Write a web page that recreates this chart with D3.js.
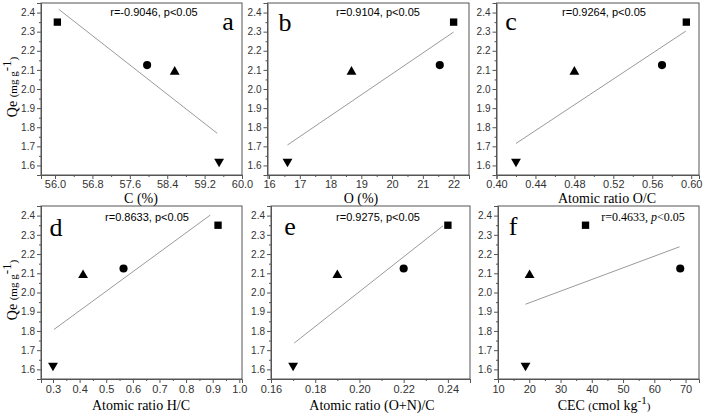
<!DOCTYPE html>
<html><head><meta charset="utf-8">
<script src="https://cdn.jsdelivr.net/npm/d3@7"></script>
<style>body{margin:0;background:#fff}svg{display:block}</style>
</head><body>
<svg id="chart" width="703" height="414"></svg>
<script>
// ---- data ----
const sampleShapes = ["square", "circle", "triangle", "triangleDown"];
const qe = [2.35, 2.125, 2.09, 1.62];
const carbonPct = [56.05, 57.97, 58.56, 59.51];
const oxygenPct = [22.0, 21.55, 18.68, 16.6];
const ratioOC = [0.595, 0.57, 0.48, 0.42];
const ratioHC = [0.92, 0.565, 0.413, 0.30];
const ratioONC = [0.24, 0.22, 0.19, 0.17];
const cecValues = [38.0, 68.3, 20.1, 18.8];

const fitA = [[56.08, 2.417], [59.47, 1.768]];
const fitB = [[16.6, 1.707], [22.0, 2.298]];
const fitC = [[0.42, 1.715], [0.5945, 2.303]];
const fitD = [[0.304, 1.808], [0.891, 2.403]];
const fitE = [[0.1705, 1.737], [0.2378, 2.347]];
const fitF = [[18.8, 1.939], [68.1, 2.238]];

const yTicks = [1.6, 1.7, 1.8, 1.9, 2.0, 2.1, 2.2, 2.3, 2.4];
const ticksA = [56.0, 56.8, 57.6, 58.4, 59.2, 60.0];
const ticksB = [16, 17, 18, 19, 20, 21, 22];
const ticksC = [0.40, 0.44, 0.48, 0.52, 0.56, 0.60];
const ticksD = [0.3, 0.4, 0.5, 0.6, 0.7, 0.8, 0.9, 1.0];
const ticksE = [0.16, 0.18, 0.20, 0.22, 0.24];
const ticksF = [10, 20, 30, 40, 50, 60, 70];

const rTexts = ["r=-0.9046, p<0.05", "r=0.9104, p<0.05", "r=0.9264, p<0.05",
                "r=0.8633, p<0.05", "r=0.9275, p<0.05", "r=0.4633, p<0.05"];
const panelLetters = ["a", "b", "c", "d", "e", "f"];

// ---- layout ----
const svg = d3.select("#chart");
const SANS = "'Liberation Sans', Arial, sans-serif";
const SERIF = "'Liberation Serif', 'Times New Roman', serif";
const yDomain = [1.55, 2.45];

const panels = [
  {x: carbonPct, fit: fitA, ticks: ticksA, dom: [55.7, 60.0], fmt: ".1f", box: [41, 242, 3, 175], pad: 1, letter: [228, 30], r: [154, 16]},
  {x: oxygenPct, fit: fitB, ticks: ticksB, dom: [15.95, 22.5], fmt: "d", box: [267.5, 469, 3, 175], pad: 1, letter: [285, 31], r: [378, 16]},
  {x: ratioOC, fit: fitC, ticks: ticksC, dom: [0.40, 0.608], fmt: ".2f", box: [496.5, 699, 3, 175], pad: 1, letter: [511, 30], r: [604, 16]},
  {x: ratioHC, fit: fitD, ticks: ticksD, dom: [0.255, 1.01], fmt: ".1f", box: [41, 242, 206, 379], pad: 2, letter: [56, 236], r: [147, 221]},
  {x: ratioONC, fit: fitE, ticks: ticksE, dom: [0.16, 0.25], fmt: ".2f", box: [271, 470, 206, 379], pad: 2, letter: [290, 235], r: [378, 221]},
  {x: cecValues, fit: fitF, ticks: ticksF, dom: [10, 74.3], fmt: "d", box: [498, 699, 206, 379], pad: 2, letter: [513, 235], r: [643, 221]}
];

const symbolType = {
  square: d3.symbolSquare, circle: d3.symbolCircle,
  triangle: d3.symbolTriangle, triangleDown: d3.symbolTriangle
};
const symbolSize = {square: 54, circle: 52, triangle: 42, triangleDown: 42};

panels.forEach((p, i) => {
  const [x0, x1, y0, y1] = p.box;
  const xs = d3.scaleLinear().domain(p.dom).range([x0, x1]);
  const ys = d3.scaleLinear().domain(yDomain).range([y1, y0]);
  const g = svg.append("g");

  // frame
  g.append("rect").attr("x", x0).attr("y", y0).attr("width", x1 - x0).attr("height", y1 - y0)
    .attr("fill", "none").attr("stroke", "#555").attr("stroke-width", 1);

  // x axis
  const step = p.ticks[1] - p.ticks[0];
  const minorX = p.ticks.slice(0, -1).map(t => t + step / 2)
    .concat([p.ticks[0] - step / 2, p.ticks[p.ticks.length - 1] + step / 2])
    .filter(v => v >= p.dom[0] && v <= p.dom[1]);
  const xAxis = d3.axisBottom(xs).tickValues(p.ticks).tickFormat(d3.format(p.fmt)).tickSizeOuter(0).tickSize(4).tickPadding(p.pad);
  const gx = g.append("g").attr("transform", `translate(0,${y1})`).call(xAxis);
  gx.select(".domain").attr("stroke", "#555");
  gx.selectAll(".tick line").attr("stroke", "#555");
  gx.selectAll("text").attr("font-family", SANS).attr("font-size", 11).attr("fill", "#333");
  g.append("g").attr("transform", `translate(0,${y1})`)
    .call(d3.axisBottom(xs).tickValues(minorX).tickFormat("").tickSizeOuter(0).tickSize(2))
    .call(s => { s.select(".domain").remove(); s.selectAll("line").attr("stroke", "#555"); });

  // y axis
  const yAxis = d3.axisLeft(ys).tickValues(yTicks).tickFormat(d3.format(".1f")).tickSizeOuter(0).tickSize(4).tickPadding(2);
  const gy = g.append("g").attr("transform", `translate(${x0},0)`).call(yAxis);
  gy.select(".domain").attr("stroke", "#555");
  gy.selectAll(".tick line").attr("stroke", "#555");
  gy.selectAll("text").attr("font-family", SANS).attr("font-size", 10).attr("fill", "#333");
  const minorY = yTicks.slice(0, -1).map(t => t + 0.05);
  g.append("g").attr("transform", `translate(${x0},0)`)
    .call(d3.axisLeft(ys).tickValues(minorY).tickFormat("").tickSizeOuter(0).tickSize(2))
    .call(s => { s.select(".domain").remove(); s.selectAll("line").attr("stroke", "#555"); });

  // fit line
  g.append("line")
    .attr("x1", xs(p.fit[0][0])).attr("y1", ys(p.fit[0][1]))
    .attr("x2", xs(p.fit[1][0])).attr("y2", ys(p.fit[1][1]))
    .attr("stroke", "#9a9a9a").attr("stroke-width", 1);

  // points
  g.selectAll("path.pt").data(p.x.map((v, k) => ({x: v, y: qe[k], s: sampleShapes[k]})))
    .join("path").attr("class", "pt")
    .attr("d", d => d3.symbol().type(symbolType[d.s]).size(symbolSize[d.s])())
    .attr("transform", d => `translate(${xs(d.x)},${ys(d.y)})${d.s === "triangleDown" ? " rotate(180)" : ""}`)
    .attr("fill", "#000");

  // panel letter
  g.append("text").attr("x", p.letter[0]).attr("y", p.letter[1]).attr("text-anchor", "middle")
    .attr("font-family", SERIF).attr("font-size", 26).attr("fill", "#000").text(panelLetters[i]);

  // r text
  if (i < 5) {
    g.append("text").attr("x", p.r[0]).attr("y", p.r[1]).attr("text-anchor", "middle")
      .attr("font-family", SANS).attr("font-size", 11).attr("fill", "#000").text(rTexts[i]);
  } else {
    const t = g.append("text").attr("x", p.r[0]).attr("y", p.r[1]).attr("text-anchor", "middle")
      .attr("font-family", SERIF).attr("font-size", 12).attr("fill", "#000");
    t.append("tspan").text("r=0.4633, ");
    t.append("tspan").attr("font-style", "italic").text("p");
    t.append("tspan").text("<0.05");
  }
});

// x axis titles
const xTitles = [
  {x: 141, y: 203, t: "C (%)"},
  {x: 361, y: 203, t: "O (%)"},
  {x: 607, y: 203, t: "Atomic ratio O/C"},
  {x: 141, y: 410, t: "Atomic ratio H/C"},
  {x: 372, y: 410, t: "Atomic ratio (O+N)/C"}
];
xTitles.forEach(d => svg.append("text").attr("x", d.x).attr("y", d.y).attr("text-anchor", "middle")
  .attr("font-family", SERIF).attr("font-size", 14).attr("fill", "#000").text(d.t));
const cec = svg.append("text").attr("x", 604).attr("y", 410).attr("text-anchor", "middle")
  .attr("font-family", SERIF).attr("font-size", 14).attr("fill", "#000");
cec.append("tspan").text("CEC ");
cec.append("tspan").attr("font-size", 11).text("(");
cec.append("tspan").text("cmol kg");
cec.append("tspan").attr("font-size", 11).attr("dy", -6).text("-1");
cec.append("tspan").attr("font-size", 11).attr("dy", 6).text(")");

// y axis titles
[87, 290].forEach(cy => {
  const t = svg.append("text").attr("transform", `translate(17,${cy}) rotate(-90)`).attr("text-anchor", "middle")
    .attr("font-family", SERIF).attr("font-size", 14).attr("fill", "#000");
  t.append("tspan").text("Qe ");
  t.append("tspan").attr("font-size", 11).text("(mg g");
  t.append("tspan").attr("font-size", 13).attr("dy", -6).text("-1");
  t.append("tspan").attr("font-size", 11).attr("dy", 6).text(")");
});
</script>
</body></html>
